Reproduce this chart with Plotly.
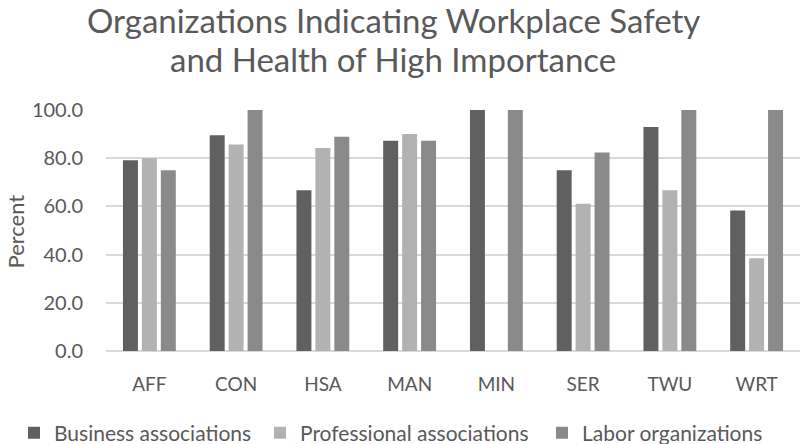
import plotly.graph_objects as go

categories = ["AFF", "CON", "HSA", "MAN", "MIN", "SER", "TWU", "WRT"]
business = [79.2, 89.5, 66.7, 87.2, 100.0, 75.0, 92.9, 58.3]
professional = [80.0, 85.7, 84.2, 90.0, 0.0, 61.1, 66.7, 38.5]
labor = [75.0, 100.0, 88.9, 87.2, 100.0, 82.4, 100.0, 100.0]
series_names = ["Business associations", "Professional associations", "Labor organizations"]
colors = ["#606060", "#b2b2b2", "#8a8a8a"]
y_ticks = [0, 20, 40, 60, 80, 100]
title_lines = ["Organizations Indicating Workplace Safety", "and Health of High Importance"]

FONT = "Lato"
TXT = "#595959"
legend_widths = [201, 237, 186]

fig = go.Figure()
for name, vals, col, lw in zip(series_names, [business, professional, labor], colors, legend_widths):
    fig.add_trace(go.Bar(x=categories, y=vals, name=name, legendwidth=lw,
                         marker=dict(color=col, line=dict(width=0))))

# plot area in px: x 106..800, y 110..351
def px(p):
    return (p - 106) / 694.0

def py(p):
    return 1 + (110 - p) / 241.0

for line, yp in zip(title_lines, [20, 59]):
    fig.add_annotation(text=line, xref="paper", yref="paper", x=px(393), y=py(yp),
                       xanchor="center", yanchor="middle", showarrow=False, borderpad=0,
                       font=dict(family=FONT, size=33, color=TXT))

# y-axis title
fig.add_annotation(text="Percent", xref="paper", yref="paper", x=px(0), y=py(232),
                   xanchor="left", yanchor="middle", textangle=-90, showarrow=False, borderpad=0,
                   font=dict(family=FONT, size=22, color=TXT))

fig.update_layout(
    width=800, height=444,
    paper_bgcolor="white", plot_bgcolor="white",
    margin=dict(l=106, r=0, t=110, b=93, autoexpand=False),
    barmode="group", bargap=0.345, bargroupgap=0.21,
    font=dict(family=FONT, color=TXT),
    legend=dict(orientation="h", xref="paper", yref="paper",
                x=px(14), xanchor="left", y=py(433), yanchor="middle",
                font=dict(family=FONT, size=21, color=TXT), itemwidth=30, traceorder="normal"),
    xaxis=dict(showgrid=False, showline=False, ticks="", automargin=False,
               tickfont=dict(size=19, color=TXT), ticklabelstandoff=20),
    yaxis=dict(range=[0, 100], tickvals=y_ticks, tickformat=".1f", showgrid=True, automargin=False,
               gridcolor="#d9d9d9", gridwidth=1.5, zeroline=True, zerolinecolor="#d9d9d9",
               zerolinewidth=1.5, showline=False, ticks="", tickfont=dict(size=20, color=TXT),
               ticklabelstandoff=22),
)

fig.write_html("out.html", config={"displayModeBar": False},
               post_script="document.body.style.margin='0';")
